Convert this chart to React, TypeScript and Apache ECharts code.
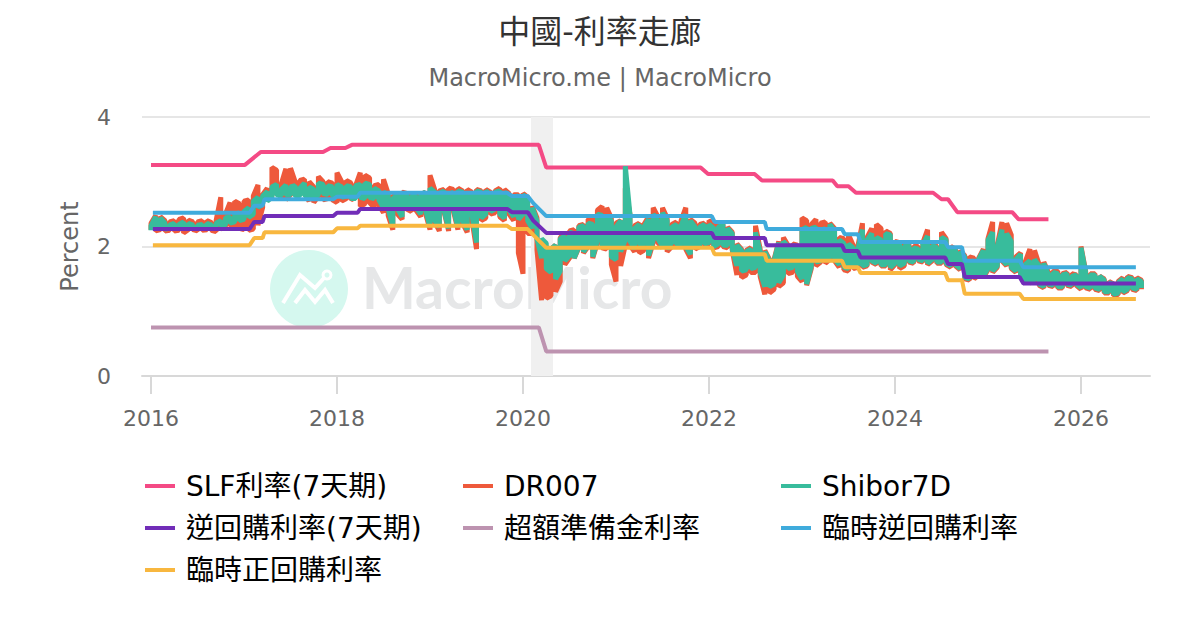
import React, { useEffect, useRef } from "react";
import * as echarts from "echarts";

const FONT = '"DejaVu Sans","Noto Sans CJK TC",sans-serif';
const tickYears = [2016, 2018, 2020, 2022, 2024, 2026];

const slfYears = [2016.0, 2017.01, 2017.18, 2017.85, 2017.93, 2018.09, 2018.16, 2020.17, 2020.25, 2021.91, 2021.99, 2022.49, 2022.57, 2023.33, 2023.38, 2023.5, 2023.58, 2024.41, 2024.5, 2024.57, 2024.67, 2025.26, 2025.33, 2025.65];
const slfValues = [3.26, 3.26, 3.46, 3.46, 3.52, 3.52, 3.57, 3.57, 3.22, 3.22, 3.12, 3.12, 3.02, 3.02, 2.93, 2.93, 2.83, 2.83, 2.73, 2.73, 2.53, 2.53, 2.42, 2.42];

const stepYears = [2016.02, 2017.06, 2017.11, 2017.2, 2017.22, 2017.96, 2018.0, 2018.22, 2018.25, 2019.83, 2019.88, 2020.05, 2020.11, 2020.25, 2022.03, 2022.06, 2022.6, 2022.62, 2023.43, 2023.46, 2023.6, 2023.63, 2024.54, 2024.57, 2024.72, 2024.75, 2025.34, 2025.38, 2026.59];
const reverseRepoValues = [2.27, 2.27, 2.38, 2.38, 2.47, 2.47, 2.52, 2.52, 2.58, 2.58, 2.53, 2.53, 2.4, 2.21, 2.21, 2.13, 2.13, 2.02, 2.02, 1.93, 1.93, 1.83, 1.83, 1.73, 1.73, 1.53, 1.53, 1.43, 1.43];
const tempReverseValues = [2.52, 2.52, 2.63, 2.63, 2.73, 2.73, 2.77, 2.77, 2.83, 2.83, 2.78, 2.78, 2.67, 2.47, 2.47, 2.38, 2.38, 2.27, 2.27, 2.19, 2.19, 2.07, 2.07, 1.99, 1.99, 1.78, 1.78, 1.68, 1.68];
const tempForwardValues = [2.02, 2.02, 2.13, 2.13, 2.22, 2.22, 2.28, 2.28, 2.32, 2.32, 2.27, 2.27, 2.18, 1.98, 1.98, 1.88, 1.88, 1.78, 1.78, 1.68, 1.68, 1.59, 1.59, 1.48, 1.48, 1.27, 1.27, 1.19, 1.19];

const excessYears = [2016.0, 2020.17, 2020.25, 2025.65];
const excessValues = [0.75, 0.75, 0.38, 0.38];

// Shibor7D and DR007: highest and lowest readings in each 0.05-year slot from 2016.00 on
const shiborHigh = [2.32,2.46,2.44,2.36,2.33,2.36,2.34,2.38,2.36,2.33,2.33,2.34,2.36,2.33,2.36,2.40,2.44,2.46,2.50,2.52,2.54,2.60,2.70,2.76,2.78,2.85,2.92,2.96,2.88,2.95,2.92,2.94,2.90,2.98,2.92,2.88,2.98,2.96,2.94,2.92,2.96,2.92,2.94,2.92,2.94,2.96,2.98,2.96,2.90,2.86,2.84,2.80,2.74,2.80,2.82,2.80,2.78,2.78,2.80,2.84,2.90,2.84,2.82,2.86,2.80,2.84,2.86,2.84,2.82,2.80,2.86,2.84,2.86,2.80,2.84,2.86,2.84,2.78,2.76,2.78,2.80,2.74,2.60,2.40,2.12,2.05,1.96,2.02,2.12,2.16,2.22,2.20,2.30,2.32,2.36,2.34,2.50,2.48,2.46,2.40,2.30,2.40,3.24,2.50,2.28,2.34,2.30,2.42,2.50,2.40,2.52,2.40,2.30,2.34,2.32,2.50,2.40,2.30,2.30,2.34,2.34,2.28,2.30,2.34,2.28,2.20,2.02,1.94,1.92,1.96,2.22,1.92,1.92,1.78,1.78,2.06,2.08,2.00,2.02,1.98,2.26,2.30,2.28,2.30,2.24,2.28,2.34,2.24,2.10,2.05,2.04,1.98,1.96,2.26,2.10,2.20,2.14,2.10,2.20,2.18,2.06,2.04,2.00,2.02,1.98,1.96,2.04,2.16,2.02,1.98,2.14,2.10,1.98,1.94,1.92,1.84,1.74,1.78,1.80,1.94,2.10,2.22,2.00,2.26,2.20,2.08,1.80,1.88,1.72,1.78,1.80,1.70,1.74,1.56,1.60,1.58,1.56,1.58,1.54,1.56,1.98,1.60,1.56,1.56,1.54,1.48,1.44,1.42,1.44,1.50,1.52,1.50,1.50,1.46];
const shiborLow = [2.25,2.28,2.28,2.27,2.28,2.29,2.28,2.28,2.29,2.29,2.29,2.29,2.30,2.29,2.31,2.32,2.33,2.36,2.38,2.40,2.42,2.45,2.50,2.60,2.66,2.70,2.76,2.80,2.78,2.80,2.80,2.78,2.78,2.80,2.76,2.74,2.80,2.82,2.80,2.78,2.80,2.76,2.78,2.74,2.74,2.76,2.74,2.76,2.74,2.72,2.60,2.58,2.32,2.58,2.46,2.60,2.58,2.60,2.50,2.58,2.30,2.40,2.30,2.56,2.28,2.60,2.30,2.40,2.26,2.50,2.06,2.44,2.50,2.54,2.58,2.50,2.44,2.56,2.46,2.42,2.50,2.40,2.28,2.12,1.82,1.66,1.60,1.50,1.62,1.78,1.86,1.82,2.00,1.92,2.02,1.84,2.10,2.00,2.00,1.84,1.80,1.92,2.10,2.08,1.96,2.04,2.02,1.86,2.10,2.12,2.00,1.96,2.06,2.04,2.02,2.00,1.88,2.00,2.02,2.04,2.06,2.00,2.04,2.02,2.02,1.96,1.70,1.62,1.64,1.66,1.68,1.60,1.38,1.38,1.42,1.44,1.56,1.66,1.68,1.62,1.50,1.42,1.70,1.76,1.78,1.78,1.84,1.80,1.72,1.68,1.66,1.70,1.72,1.70,1.72,1.78,1.74,1.72,1.72,1.68,1.74,1.70,1.74,1.78,1.76,1.80,1.78,1.74,1.80,1.76,1.76,1.74,1.70,1.72,1.66,1.52,1.50,1.52,1.58,1.54,1.66,1.62,1.70,1.80,1.72,1.68,1.62,1.58,1.44,1.46,1.48,1.42,1.38,1.42,1.40,1.38,1.38,1.42,1.40,1.42,1.36,1.38,1.36,1.36,1.34,1.30,1.30,1.26,1.28,1.30,1.34,1.36,1.34,1.36];
const dr007High = [2.36,2.48,2.46,2.40,2.38,2.40,2.42,2.44,2.41,2.38,2.38,2.40,2.40,2.37,2.40,2.76,2.50,2.68,2.70,2.66,2.70,2.72,2.78,2.95,2.80,2.90,3.22,3.18,2.96,3.20,3.21,3.00,3.02,3.04,3.00,2.92,3.08,3.00,3.00,2.98,3.14,3.00,3.02,2.98,2.94,3.14,3.10,3.06,2.94,2.96,3.04,2.82,2.78,2.80,2.84,2.82,2.82,2.80,2.80,2.84,3.10,2.88,2.86,2.88,2.90,2.88,2.90,2.86,2.88,2.84,2.88,2.86,2.88,2.84,2.86,2.90,2.88,2.82,2.80,2.80,2.82,2.76,2.62,2.44,2.10,2.00,1.96,2.02,2.14,2.18,2.24,2.26,2.32,2.34,2.42,2.44,2.56,2.62,2.60,2.44,2.36,2.40,2.90,2.50,2.32,2.36,2.34,2.46,2.60,2.46,2.60,2.44,2.34,2.38,2.40,2.60,2.42,2.36,2.34,2.36,2.40,2.36,2.34,2.36,2.30,2.22,2.04,1.96,1.94,1.98,2.32,1.96,1.94,1.80,1.80,2.08,2.14,2.02,2.04,2.02,2.44,2.40,2.34,2.42,2.36,2.38,2.36,2.28,2.14,2.12,2.18,2.02,2.00,2.36,2.14,2.28,2.34,2.28,2.24,2.20,2.08,2.06,2.04,2.04,2.00,2.00,2.06,2.26,2.04,2.00,2.22,2.12,2.00,1.96,1.94,1.86,1.84,1.82,1.82,1.96,2.12,2.38,2.02,2.38,2.36,2.18,1.84,1.90,1.76,1.96,1.94,1.72,1.76,1.60,1.62,1.62,1.58,1.60,1.58,1.56,2.00,1.62,1.58,1.58,1.54,1.50,1.46,1.42,1.46,1.52,1.54,1.52,1.52,1.48];
const dr007Low = [2.26,2.24,2.26,2.24,2.25,2.24,2.25,2.21,2.26,2.26,2.24,2.25,2.26,2.25,2.23,2.27,2.30,2.33,2.30,2.28,2.26,2.25,2.27,2.33,2.60,2.72,2.78,2.88,2.75,2.72,2.80,2.78,2.83,2.82,2.70,2.68,2.78,2.72,2.74,2.72,2.68,2.70,2.74,2.72,2.76,2.62,2.66,2.68,2.60,2.64,2.52,2.48,2.26,2.50,2.42,2.58,2.54,2.56,2.46,2.52,2.26,2.38,2.24,2.54,2.24,2.56,2.26,2.36,2.22,2.42,1.96,2.40,2.44,2.50,2.52,2.46,2.40,2.50,2.40,1.90,1.58,2.20,2.20,1.95,1.17,1.20,1.24,1.30,1.46,1.72,1.82,1.82,1.98,1.90,2.00,1.82,2.06,1.98,1.96,1.72,1.46,1.70,2.02,2.02,1.92,1.90,1.94,1.82,2.06,2.06,1.98,1.92,2.00,2.02,2.00,1.96,1.82,1.96,2.00,2.02,2.04,1.98,2.00,2.00,1.98,1.94,1.56,1.52,1.56,1.60,1.60,1.54,1.26,1.28,1.34,1.38,1.44,1.58,1.60,1.54,1.46,1.40,1.66,1.70,1.76,1.74,1.80,1.78,1.68,1.64,1.62,1.66,1.68,1.68,1.70,1.76,1.72,1.70,1.70,1.64,1.72,1.66,1.70,1.76,1.74,1.78,1.76,1.72,1.78,1.74,1.74,1.72,1.68,1.70,1.64,1.50,1.48,1.50,1.56,1.52,1.64,1.60,1.68,1.78,1.70,1.66,1.60,1.56,1.42,1.44,1.46,1.40,1.36,1.40,1.38,1.36,1.36,1.40,1.38,1.40,1.34,1.36,1.34,1.34,1.32,1.28,1.28,1.24,1.26,1.28,1.32,1.34,1.32,1.34];

const recessionBand = [2020.086, 2020.323];

const pairs = (xs: number[], ys: number[]) => xs.map((x, i) => [x, ys[i]]);

// each slot is one stroke between its lowest and highest reading
const zigzag = (hi: number[], lo: number[]) => {
  const out: number[][] = [];
  hi.forEach((h, i) => {
    const x = 2016 + i * 0.05;
    if (i % 2 === 0) out.push([x, lo[i]], [x, h]);
    else out.push([x, h], [x, lo[i]]);
  });
  return out;
};

const lineSeries = (name: string, color: string, data: number[][], z: number, width = 4, extra: object = {}) => ({
  name,
  type: "line",
  data,
  color,
  z,
  showSymbol: false,
  symbol: "none",
  silent: true,
  lineStyle: { color, width, join: "bevel", cap: "butt" },
  itemStyle: { color },
  ...extra,
});

const legendBase = {
  orient: "vertical",
  icon: "rect",
  itemWidth: 30,
  itemHeight: 4,
  itemGap: 14,
  padding: 0,
  selectedMode: false,
  textStyle: { fontFamily: FONT, fontSize: 28, color: "#000", padding: [0, 0, 0, 6] },
};

export default function App() {
  const ref = useRef<HTMLDivElement>(null);
  useEffect(() => {
    document.body.style.margin = "0";
    const chart = echarts.init(ref.current!, undefined, { renderer: "svg" });
    chart.setOption({
      animation: false,
      backgroundColor: "#fff",
      title: [
        { text: "中國-利率走廊", left: "center", top: 16, padding: 0, textStyle: { fontFamily: FONT, fontSize: 32, fontWeight: "normal", color: "#333" } },
        { text: "MacroMicro.me | MacroMicro", left: "center", top: 66, padding: 0, textStyle: { fontFamily: FONT, fontSize: 24, fontWeight: "normal", color: "#666" } },
      ],
      grid: { left: 142, right: 50, top: 117, bottom: 254, containLabel: false },
      legend: [
        { ...legendBase, left: 145, top: 472, data: ["SLF利率(7天期)", "逆回購利率(7天期)", "臨時正回購利率"] },
        { ...legendBase, left: 463, top: 472, data: ["DR007", "超額準備金利率"] },
        { ...legendBase, left: 781, top: 472, data: ["Shibor7D", "臨時逆回購利率"] },
      ],
      xAxis: {
        type: "value",
        min: 2015.903,
        max: 2026.742,
        splitLine: { show: false },
        axisLine: { lineStyle: { color: "#d8d8d8", width: 2 } },
        axisTick: { show: true, length: 18, customValues: tickYears, lineStyle: { color: "#d8d8d8", width: 2 } },
        axisLabel: { customValues: tickYears, formatter: (v: number) => String(v), fontFamily: FONT, fontSize: 22, color: "#666", margin: 31 },
      },
      yAxis: {
        type: "value",
        min: 0,
        max: 4,
        interval: 2,
        name: "Percent",
        nameLocation: "middle",
        nameGap: 60,
        nameTextStyle: { fontFamily: FONT, fontSize: 24, color: "#666" },
        axisLine: { show: false },
        axisTick: { show: false },
        splitLine: { lineStyle: { color: "#e6e6e6", width: 2 } },
        axisLabel: { fontFamily: FONT, fontSize: 22, color: "#666", margin: 31, padding: [3, 0, 0, 0] },
      },
      graphic: [
        { type: "circle", z: 0, shape: { cx: 309, cy: 289, r: 39 }, style: { fill: "#d5f8ef" } },
        { type: "polyline", z: 0, shape: { points: [[283, 303], [300, 275], [315, 288], [324, 278]] }, style: { stroke: "#fff", fill: "none", lineWidth: 4 } },
        { type: "polyline", z: 0, shape: { points: [[295, 303], [305, 290], [315, 302], [325, 290], [333, 303]] }, style: { stroke: "#fff", fill: "none", lineWidth: 4 } },
        { type: "circle", z: 0, shape: { cx: 327, cy: 275, r: 4 }, style: { fill: "none", stroke: "#fff", lineWidth: 3 } },
        { type: "text", z: 0, left: 362, top: 258, style: { text: "MacroMicro", fontFamily: "Lato, sans-serif", fontWeight: 700, fontSize: 57, fill: "#e6e7e8" } },
      ],
      series: [
        lineSeries("SLF利率(7天期)", "#f44a85", pairs(slfYears, slfValues), 3, 4, {
          markArea: {
            silent: true,
            itemStyle: { color: "#f0f0f0" },
            data: [[{ xAxis: recessionBand[0] }, { xAxis: recessionBand[1] }]],
          },
        }),
        lineSeries("DR007", "#ee593b", zigzag(dr007High, dr007Low), 4, 5),
        lineSeries("Shibor7D", "#38bc9c", zigzag(shiborHigh, shiborLow), 5, 5),
        lineSeries("逆回購利率(7天期)", "#712db8", pairs(stepYears, reverseRepoValues), 6),
        lineSeries("超額準備金利率", "#bd93b0", pairs(excessYears, excessValues), 7),
        lineSeries("臨時逆回購利率", "#3fabdc", pairs(stepYears, tempReverseValues), 8),
        lineSeries("臨時正回購利率", "#f8b73f", pairs(stepYears, tempForwardValues), 9),
      ],
    });
    return () => chart.dispose();
  }, []);
  return <div ref={ref} style={{ width: 1200, height: 630, position: "absolute", left: 0, top: 0 }} />;
}
